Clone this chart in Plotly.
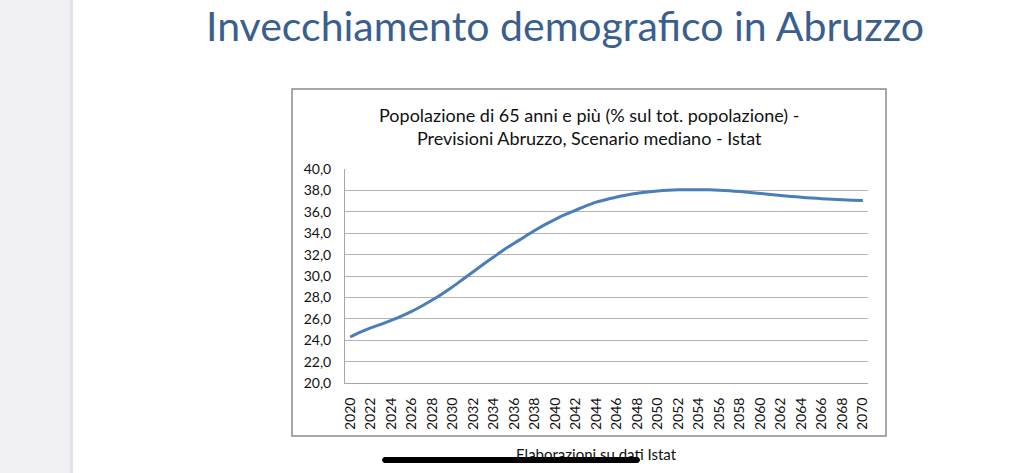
import plotly.graph_objects as go

# Popolazione di 65 anni e più (% sul totale), Abruzzo, scenario mediano Istat
anni = list(range(2020, 2071))
quota_65 = [
    24.30, 24.75, 25.15, 25.48, 25.85, 26.25, 26.70, 27.20, 27.75, 28.35,
    29.00, 29.70, 30.40, 31.10, 31.78, 32.45, 33.07, 33.65, 34.25, 34.80,
    35.30, 35.75, 36.15, 36.55, 36.90, 37.15, 37.38, 37.57, 37.73, 37.86,
    37.95, 38.01, 38.05, 38.07, 38.07, 38.05, 38.01, 37.96, 37.89, 37.81,
    37.72, 37.62, 37.53, 37.44, 37.36, 37.29, 37.23, 37.17, 37.12, 37.08,
    37.05,
]
anni_etichette = list(range(2020, 2071, 2))
y_ticks = list(range(20, 41, 2))

W, H = 1024, 473


def px(x):
    return x / W


def py(y):
    return 1 - y / H


fig = go.Figure()
fig.add_trace(go.Scatter(
    x=anni, y=quota_65, mode='lines',
    line=dict(color='#4A7EBB', width=3, shape='spline', smoothing=0.8),
    hoverinfo='x+y', showlegend=False,
))

shapes = [
    # grey side strip of the viewer
    dict(type='rect', xref='paper', yref='paper', x0=0, x1=px(70), y0=0, y1=1,
         fillcolor='#EFEFF4', line_width=0, layer='below'),
    dict(type='rect', xref='paper', yref='paper', x0=px(70), x1=px(73), y0=0, y1=1,
         fillcolor='#E2E2E7', line_width=0, layer='below'),
    # chart frame
    dict(type='rect', xref='paper', yref='paper', x0=px(292), x1=px(886),
         y0=py(436), y1=py(89), line=dict(color='#8C8C8C', width=1.5),
         fillcolor='rgba(0,0,0,0)', layer='below'),
    # home indicator bar
    dict(type='path', xref='paper', yref='paper',
         path=(f'M {px(384)},{py(457)} L {px(638)},{py(457)} '
               f'Q {px(642)},{py(460)} {px(638)},{py(463)} '
               f'L {px(384)},{py(463)} Q {px(380)},{py(460)} {px(384)},{py(457)} Z'),
         fillcolor='#000000', line_width=0, layer='above'),
]

annotations = [
    dict(text='Invecchiamento demografico in Abruzzo', x=px(565), y=1,
         xref='paper', yref='paper', showarrow=False, xanchor='center', yanchor='top',
         borderpad=0, font=dict(family='Lato', size=41, color='#3A5F8F')),
    dict(text='Popolazione di 65 anni e più (% sul tot. popolazione) -<br>'
              'Previsioni Abruzzo, Scenario mediano - Istat',
         x=px(589), y=py(126), xref='paper', yref='paper', showarrow=False,
         xanchor='center', yanchor='middle', align='center',
         font=dict(family='Lato', size=18, color='#111111')),
    dict(text='Elaborazioni su dati Istat', x=px(596), y=py(454),
         xref='paper', yref='paper', showarrow=False, xanchor='center', yanchor='middle',
         font=dict(family='Lato', size=15, color='#111111')),
]

fig.update_layout(
    width=W, height=H,
    margin=dict(l=0, r=0, t=0, b=0),
    paper_bgcolor='white', plot_bgcolor='white',
    separators=',.',
    shapes=shapes, annotations=annotations,
    xaxis=dict(domain=[px(345), px(868)], range=[2019.5, 2070.5],
               tickvals=anni_etichette, ticktext=[str(a) for a in anni_etichette],
               tickangle=-90, showgrid=False, zeroline=False,
               showline=True, linecolor='#A6A6A6', linewidth=1,
               ticks='', automargin=False, ticklabelstandoff=8,
               tickfont=dict(family='Lato', size=14, color='#111111')),
    yaxis=dict(domain=[py(383), py(169)], range=[20, 40],
               tickvals=y_ticks, tickformat='.1f',
               showgrid=True, gridcolor='#B4B4B4', gridwidth=1, zeroline=False,
               showline=True, linecolor='#A6A6A6', linewidth=1,
               ticks='', automargin=False, ticklabelstandoff=10,
               tickfont=dict(family='Lato', size=14, color='#111111')),
)

fig.write_html('out.html', config={'displayModeBar': False},
               post_script="document.body.style.margin='0px';")
